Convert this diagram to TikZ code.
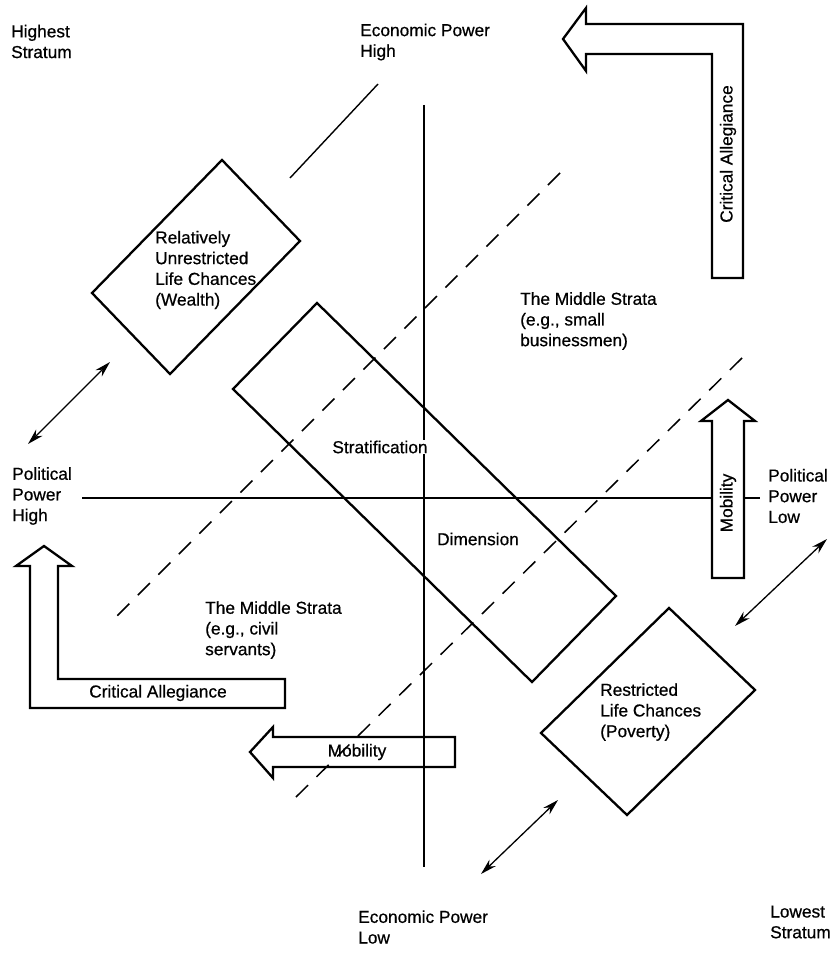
\documentclass[tikz,border=0pt]{standalone}
\usepackage{fontspec}
\setmainfont{Liberation Sans}[FakeBold=0.6,AutoFakeBold=0.6]
\usetikzlibrary{arrows.meta}
\begin{document}
\begin{tikzpicture}[x=1pt,y=-1pt,
  lbl/.style={font=\fontsize{17.3}{20.7}\selectfont\bfseries, inner sep=0pt, align=left, anchor=west},
  ctr/.style={font=\fontsize{17.3}{20.7}\selectfont\bfseries, inner sep=0pt},
  axis/.style={line width=1.4pt},
  dashline/.style={line width=1.5pt, dash pattern=on 17pt off 12pt},
  box/.style={line width=2.3pt, line join=miter},
  bigarrow/.style={line width=2.3pt, line join=miter},
  dbl/.style={line width=1.3pt, {Stealth[length=16pt,width=9pt]}-{Stealth[length=16pt,width=9pt]}}]
\useasboundingbox (0,0) rectangle (833,976);

% axes
\coordinate (vtop) at (424,105);
\coordinate (vbot) at (424,867);
\coordinate (hleft) at (82,498);
\coordinate (hright) at (760,498);
\draw[axis] (vtop) -- (vbot);
\draw[axis] (hleft) -- (hright);

% solid diagonal and dashed diagonals
\coordinate (s1) at (290,178);
\coordinate (s2) at (378,84);
\draw[axis] (s1) -- (s2);
\coordinate (d1a) at (560,173);
\coordinate (d1b) at (111,622);
\draw[dashline] (d1a) -- (d1b);
\coordinate (d2a) at (742,358);
\coordinate (d2b) at (296,797);
\draw[dashline] (d2a) -- (d2b);

% stratification dimension rectangle
\draw[box] (317,303) -- (616,596) -- (532,682) -- (233,389) -- cycle;
% wealth diamond
\draw[box] (222,160) -- (300,241) -- (170,374) -- (92,293) -- cycle;
% poverty diamond
\draw[box] (669,608) -- (755,690) -- (627,815) -- (541,733) -- cycle;

% double arrows
\coordinate (a1) at (28,444);
\coordinate (a2) at (110,362);
\draw[dbl] (a1) -- (a2);
\coordinate (b1) at (827,539);
\coordinate (b2) at (735,626);
\draw[dbl] (b1) -- (b2);
\coordinate (c1) at (558,800);
\coordinate (c2) at (481,874);
\draw[dbl] (c1) -- (c2);

% critical allegiance top right
\draw[bigarrow, fill=white] (563,39) -- (586,8) -- (586,24) -- (743,24) -- (743,278)
  -- (712,278) -- (712,54) -- (586,54) -- (586,71) -- cycle;
\node[ctr, rotate=90] (ca1) at (728,154) {Critical Allegiance};

% critical allegiance lower left
\draw[bigarrow, fill=white] (44,546) -- (72,566) -- (58,566) -- (58,679) -- (285,679)
  -- (285,708) -- (30,708) -- (30,566) -- (16,566) -- cycle;
\node[ctr] (ca2) at (158,693) {Critical Allegiance};

% mobility left
\draw[bigarrow] (250,752) -- (273,727) -- (273,737) -- (455,737) -- (455,767)
  -- (273,767) -- (273,778) -- cycle;
\node[ctr] (mob1) at (357,752) {Mobility};

% mobility up
\draw[bigarrow, fill=white] (728,400) -- (755,421) -- (744,421) -- (744,578) -- (712,578)
  -- (712,421) -- (701,421) -- cycle;
\node[ctr, rotate=90] (mob2) at (728,503) {Mobility};

% labels
\node[lbl] (hs) at (11,41.5) {Highest\\Stratum};
\node[lbl] (eph) at (360,42) {Economic Power\\High};
\node[lbl] (pph) at (12,496) {Political\\Power\\High};
\node[lbl] (ppl) at (768,496) {Political\\Power\\Low};
\node[lbl] (epl) at (358,927) {Economic Power\\Low};
\node[lbl] (ls) at (770,922) {Lowest\\Stratum};

\node[lbl] (wealth) at (155,270) {Relatively\\Unrestricted\\Life Chances\\(Wealth)};
\node[lbl] (small) at (520,321) {The Middle Strata\\(e.g., small\\businessmen)};
\node[lbl] (civil) at (205,630) {The Middle Strata\\(e.g., civil\\servants)};
\node[lbl] (poverty) at (600,712) {Restricted\\Life Chances\\(Poverty)};
\node[ctr, fill=white, inner sep=1pt] (strat) at (380,447) {Stratification};
\node[ctr] (dim) at (478,539) {Dimension};
\end{tikzpicture}
\end{document}
